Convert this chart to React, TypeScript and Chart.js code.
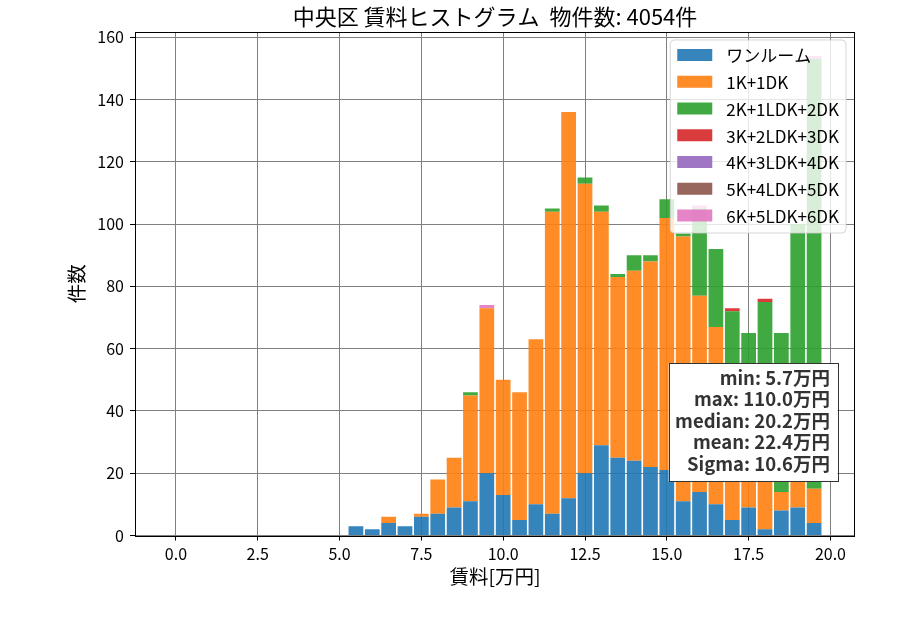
import React, { useEffect, useRef } from "react";
import { Chart, registerables } from "chart.js";

Chart.register(...registerables);

// ---- data ----
const binCenters = [
  5.5, 6.0, 6.5, 7.0, 7.5, 8.0, 8.5, 9.0, 9.5, 10.0, 10.5, 11.0, 11.5, 12.0, 12.5,
  13.0, 13.5, 14.0, 14.5, 15.0, 15.5, 16.0, 16.5, 17.0, 17.5, 18.0, 18.5, 19.0, 19.5,
];
const oneRoom = [3, 2, 4, 3, 6, 7, 9, 11, 20, 13, 5, 10, 7, 12, 20, 29, 25, 24, 22, 21, 11, 14, 10, 5, 9, 2, 8, 9, 4];
const k1dk = [0, 0, 2, 0, 1, 11, 16, 34, 53, 37, 41, 53, 97, 124, 93, 75, 58, 61, 66, 81, 85, 63, 57, 40, 31, 28, 6, 16, 11];
const k2ldk = [0, 0, 0, 0, 0, 0, 0, 1, 0, 0, 0, 0, 1, 0, 2, 2, 1, 5, 2, 6, 1, 28, 25, 27, 25, 45, 51, 75, 138];
const k3ldk = [0, 0, 0, 0, 0, 0, 0, 0, 0, 0, 0, 0, 0, 0, 0, 0, 0, 0, 0, 0, 0, 0, 0, 1, 0, 1, 0, 0, 0];
const k4ldk = [0, 0, 0, 0, 0, 0, 0, 0, 0, 0, 0, 0, 0, 0, 0, 0, 0, 0, 0, 0, 0, 0, 0, 0, 0, 0, 0, 0, 0];
const k5ldk = [0, 0, 0, 0, 0, 0, 0, 0, 0, 0, 0, 0, 0, 0, 0, 0, 0, 0, 0, 0, 0, 0, 0, 0, 0, 0, 0, 0, 0];
const k6ldk = [0, 0, 0, 0, 0, 0, 0, 0, 1, 0, 0, 0, 0, 0, 0, 0, 0, 0, 0, 0, 0, 1, 0, 0, 0, 0, 0, 0, 1];

const seriesLabels = ["ワンルーム", "1K+1DK", "2K+1LDK+2DK", "3K+2LDK+3DK", "4K+3LDK+4DK", "5K+4LDK+5DK", "6K+5LDK+6DK"];
const seriesValues = [oneRoom, k1dk, k2ldk, k3ldk, k4ldk, k5ldk, k6ldk];
const seriesColors = [
  "rgba(31,119,180,0.9)",
  "rgba(255,127,14,0.9)",
  "rgba(44,160,44,0.9)",
  "rgba(214,39,40,0.9)",
  "rgba(148,103,189,0.9)",
  "rgba(140,86,75,0.9)",
  "rgba(227,119,194,0.9)",
];

const xTicks = [0, 2.5, 5, 7.5, 10, 12.5, 15, 17.5, 20];
const yTicks = [0, 20, 40, 60, 80, 100, 120, 140, 160];

const titleText = "中央区 賃料ヒストグラム  物件数: 4054件";
const xTitle = "賃料[万円]";
const yTitle = "件数";
const statLabels = ["min", "max", "median", "mean", "Sigma"];
const statValues = ["5.7", "110.0", "20.2", "22.4", "10.6"];
const statUnit = "万円";

const FONT = "'Noto Sans CJK JP', 'Noto Sans', sans-serif";

const overlayPlugin = {
  id: "overlay",
  afterDraw(chart: any) {
    const { ctx, chartArea: a } = chart;
    ctx.save();
    // spines
    ctx.strokeStyle = "#000";
    ctx.lineWidth = 1;
    ctx.strokeRect(Math.round(a.left) + 0.5, Math.round(a.top) + 0.5, Math.round(a.right - a.left) - 1, Math.round(a.bottom - a.top));

    // legend
    ctx.font = `17px ${FONT}`;
    let maxW = 0;
    seriesLabels.forEach((l) => (maxW = Math.max(maxW, ctx.measureText(l).width)));
    const rowH = 26.75;
    const lw = 7 + 35 + 14 + maxW + 7;
    const lh = 193;
    const lr = a.right - 9;
    const ll = lr - lw;
    const lt = a.top + 8;
    ctx.beginPath();
    const r = 4;
    ctx.moveTo(ll + r, lt);
    ctx.lineTo(lr - r, lt);
    ctx.quadraticCurveTo(lr, lt, lr, lt + r);
    ctx.lineTo(lr, lt + lh - r);
    ctx.quadraticCurveTo(lr, lt + lh, lr - r, lt + lh);
    ctx.lineTo(ll + r, lt + lh);
    ctx.quadraticCurveTo(ll, lt + lh, ll, lt + lh - r);
    ctx.lineTo(ll, lt + r);
    ctx.quadraticCurveTo(ll, lt, ll + r, lt);
    ctx.closePath();
    ctx.fillStyle = "rgba(255,255,255,0.8)";
    ctx.fill();
    ctx.strokeStyle = "rgba(204,204,204,0.8)";
    ctx.stroke();
    ctx.textBaseline = "middle";
    ctx.textAlign = "left";
    seriesLabels.forEach((l, i) => {
      const cy = lt + 15 + i * rowH;
      ctx.fillStyle = seriesColors[i];
      ctx.fillRect(ll + 7, cy - 6, 35, 12);
      ctx.fillStyle = "#000";
      ctx.fillText(l, ll + 56, cy + 1);
    });

    // stats box
    ctx.font = `bold 18.5px ${FONT}`;
    const lines = statLabels.map((l, i) => `${l}: ${statValues[i]}${statUnit}`);
    let sw = 0;
    lines.forEach((t) => (sw = Math.max(sw, ctx.measureText(t).width)));
    const sr = a.right - 17.5;
    const sl = sr - sw - 14;
    const st = 363.5;
    const sb = 481.5;
    ctx.fillStyle = "#fff";
    ctx.fillRect(sl, st, sr - sl, sb - st);
    ctx.strokeStyle = "#333";
    ctx.lineWidth = 1;
    ctx.strokeRect(Math.round(sl) + 0.5, st, Math.round(sr - sl), sb - st);
    ctx.fillStyle = "#333";
    ctx.textAlign = "right";
    lines.forEach((t, i) => {
      ctx.fillText(t, sr - 7.5, 378 + i * 21.4);
    });
    ctx.restore();
  },
};

export default function App() {
  const ref = useRef<HTMLCanvasElement | null>(null);
  useEffect(() => {
    document.body.style.margin = "0";
    const canvas = ref.current;
    if (!canvas) return;
    const chart = new Chart(canvas, {
      type: "bar",
      data: {
        datasets: seriesLabels.map((label, i) => ({
          label,
          data: binCenters.map((x, j) => ({ x, y: seriesValues[i][j] })),
          backgroundColor: seriesColors[i],
          borderWidth: 0,
          barPercentage: 0.9,
          categoryPercentage: 1.0,
        })),
      },
      options: {
        responsive: false,
        animation: false,
        events: [],
        layout: { padding: { left: 0, right: 45, top: 0, bottom: 0 } },
        plugins: {
          legend: { display: false },
          tooltip: { enabled: false },
          title: {
            display: true,
            text: titleText,
            fullSize: false,
            color: "#000",
            font: { family: FONT, size: 22, weight: "normal" },
            padding: { top: 3, bottom: 2.6 },
          },
        },
        scales: {
          x: {
            type: "linear",
            stacked: true,
            offset: false,
            min: -1.25,
            max: 20.75,
            z: 1,
            afterBuildTicks: (s: any) => {
              s.ticks = xTicks.map((v) => ({ value: v }));
            },
            afterFit: (s: any) => {
              s.height = 94.5;
            },
            grid: { offset: false, color: "#808080", lineWidth: 1, tickColor: "#000", tickLength: 5 },
            border: { display: false },
            ticks: {
              color: "#000",
              font: { family: FONT, size: 16 },
              padding: 4,
              maxRotation: 0,
              callback: (v: any) => Number(v).toFixed(1),
            },
            title: {
              display: true,
              text: xTitle,
              color: "#000",
              font: { family: FONT, size: 19.5 },
              padding: { top: 0, bottom: 41.3 },
            },
          },
          y: {
            type: "linear",
            stacked: true,
            min: 0,
            max: 161.7,
            z: 1,
            afterBuildTicks: (s: any) => {
              s.ticks = yTicks.map((v) => ({ value: v }));
            },
            afterFit: (s: any) => {
              s.width = 135;
            },
            grid: { color: "#808080", lineWidth: 1, tickColor: "#000", tickLength: 5 },
            border: { display: false },
            ticks: {
              color: "#000",
              font: { family: FONT, size: 16 },
              padding: 6,
            },
            title: {
              display: true,
              text: yTitle,
              color: "#000",
              font: { family: FONT, size: 19.5 },
              padding: { top: 65, bottom: 0 },
            },
          },
        },
      },
      plugins: [overlayPlugin],
    } as any);
    return () => chart.destroy();
  }, []);
  return (
    <div style={{ position: "absolute", left: 0, top: 0, width: 900, height: 630 }}>
      <canvas ref={ref} width={900} height={630} style={{ width: 900, height: 630 }} />
    </div>
  );
}
